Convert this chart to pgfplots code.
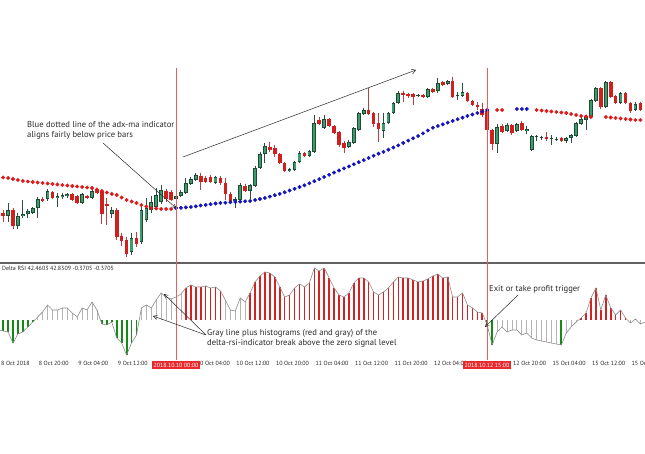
\documentclass[border=0pt]{standalone}
\usepackage{pgfplots}
\pgfplotsset{compat=1.18}
\usepackage{pgfplotstable}
\usepackage{fontspec}
\setmainfont{PT Sans}
\usetikzlibrary{arrows.meta}
\definecolor{candleRed}{HTML}{CF1F1F}
\definecolor{candleGreen}{HTML}{3D9C6C}
\definecolor{candleEdge}{HTML}{1E4A35}
\definecolor{wickRed}{HTML}{B84040}
\definecolor{wickGreen}{HTML}{2D4F40}
\definecolor{dotRed}{HTML}{E01818}
\definecolor{dotBlue}{HTML}{1414BE}
\definecolor{histRed}{HTML}{D42222}
\definecolor{histGreen}{HTML}{138A13}
\definecolor{histGray}{HTML}{B4B4B4}
\definecolor{lineGray}{HTML}{8C8C8C}
\definecolor{vline}{HTML}{E46060}
\definecolor{boxRed}{HTML}{E8282C}
\definecolor{annot}{HTML}{2A2A2A}

\pgfplotsset{candle/.style={only marks, mark=*, mark size=0pt, mark options={draw=none, fill=none},
  error bars/.cd, y dir=plus, y explicit, error mark=none}}

% candles: k = hours from 2018.10.10 00:00; values are chart heights (screen units, downward)
\pgfplotstableread{
k wt wb bt bb
-34 203 222 210 216
-32 213 229 216 226
-31 200 218 214 216
-30 209 218 211 214
-29 207 214 208 213
-28 197 218 199 208
-26 189 201 191 199
-24 193 207 196 198
-23 193 199 195 197
-22 193 198 194 196
-19 193 204 194 203
-17 187 199 191 198
-13 207 218 210 214
-9 233 255 238 252
-7 205 244 210 242
-6 198 222 208 220
-5 196 213 202 210
-4 188 210 195 207
-3 185 204 190 202
0 194 202 196 199
1 190 197 192 196
2 178 194 183 193
3 177 185 179 184
4 173 181 175 180
8 176 184 177 183
12 197 208 199 201
13 183 202 185 200
15 184 199 185 191
16 166 187 168 186
17 152 169 154 168
18 143 163 146 154
23 168 172 169 171
24 161 171 162 170
25 151 163 153 162
27 150 157 151 156
28 115 153 123 152
30 115 129 119 128
35 140 148 142 147
36 127 144 128 143
37 112 131 113 130
38 108 115 110 114
42 113 138 123 131
43 112 124 113 123
44 102 114 103 113
45 91 104 93 103
49 94 97 95 96
51 88 98 89 97
53 78 93 83 91
55 80 85 81 84
57 92 100 95 96
58 83 97 92 96
65 124 153 127 144
67 123 132 125 131
69 123 132 124 131
71 126 134 129 131
72 135 151 136 150
73 135 141 136 137
74 136 140 137 138
76 135 145 138 139
77 137 141 139 140
79 137 143 138 141
80 134 143 135 138
81 122 137 123 136
82 117 125 119 124
83 115 130 117 120
84 99 118 100 117
85 87 102 88 101
87 81 108 82 107
90 92 104 93 103
93 102 111 104 110
}\greencandles

\pgfplotstableread{
k wt wb bt bb
-35 210 222 213 216
-33 208 229 210 226
-27 197 202 199 201
-25 191 199 192 198
-21 193 201 194 200
-20 195 204 196 203
-18 195 199 196 198
-16 189 194 190 193
-15 190 224 191 214
-14 198 225 204 206
-12 208 240 210 237
-11 233 246 236 241
-10 237 257 240 254
-8 232 247 238 244
-2 189 202 191 199
-1 190 201 192 200
5 173 190 176 182
6 176 183 178 182
7 175 183 177 182
9 176 185 178 183
10 178 200 183 194
11 192 203 194 202
14 184 192 186 191
19 142 152 147 150
20 145 157 148 154
21 153 164 154 163
22 162 172 163 171
26 152 157 153 156
29 117 125 120 124
31 118 127 119 126
32 125 134 126 133
33 131 147 132 145
34 141 153 143 148
39 88 115 110 114
40 112 127 113 124
41 113 142 123 129
46 91 102 93 95
47 93 98 94 96
48 93 105 94 97
50 94 98 95 97
52 88 93 89 92
54 81 86 82 85
56 77 98 81 97
59 92 102 93 101
60 100 106 101 105
61 102 110 105 107
62 103 117 109 115
63 110 131 111 130
64 129 150 130 144
66 124 133 126 132
68 124 135 125 133
70 121 131 123 130
75 132 141 137 139
78 137 142 138 141
86 87 109 88 107
88 81 98 82 97
89 95 104 96 103
91 92 104 93 103
92 102 113 103 111
94 102 111 103 110
}\redcandles

\pgfplotstableread{
k y
-36 177
-35 177.5
-34 178
-33 179
-32 180
-31 181
-30 181.5
-29 182
-28 182.5
-27 183
-26 183.5
-25 184
-24 184.5
-23 185
-22 185.5
-21 186
-20 186.5
-19 187
-18 187.5
-17 188
-16 189.5
-15 191
-14 192.5
-13 194
-12 195
-11 197.5
-10 200
-9 201.5
-8 203
-7 205
-6 206.5
-5 208
-4 208.5
-3 209
-2 209
-1 209
65 110
66 110
73 110
74 110.5
75 111
76 111.5
77 112
78 112.5
79 113
80 114
81 115
82 116
83 116.5
84 117
87 117
88 117.5
89 118
90 118.5
91 119
92 119.5
93 120
94 120
95 120
}\reddots

\pgfplotstableread{
k y
0 208
1 207.8
2 207.4
3 207
4 206.3
5 205.5
6 204.9
7 204.2
8 203.5
9 203
10 202.7
11 202.3
12 202
13 201.7
14 201.3
15 201
16 200
17 199
18 198
19 196.6
20 195.2
21 193.8
22 192.3
23 190.5
24 188.8
25 187
26 185.3
27 183.3
28 181.2
29 179.2
30 177
31 174.8
32 172.6
33 170.5
34 168.4
35 166.4
36 164.3
37 162.2
38 160.1
39 158
40 155.8
41 153.7
42 151.9
43 149.7
44 147.5
45 145.4
46 143
47 140.6
48 138.3
49 136
50 133.3
51 130.5
52 127.8
53 126
54 124.3
55 122.6
56 120.9
57 119.2
58 117.7
59 116
60 114.5
61 113
62 111.5
63 110
69 109
70 109
71 109
}\bluedots

\pgfplotstableread{
k h
-36 -10
-35 -11
-34 -12
-33 -23
-32 -14
-31 -12
-30 -7
-29 -2
-28 3
-27 8
-26 15
-25 10
-24 10
-23 12
-22 12
-21 7
-20 3
-19 12
-18 10
-17 18
-16 10
-15 -4
-14 -5
-13 -2
-12 -18
-11 -23
-10 -35
-9 -23
-8 -15
-7 12
-6 15
-5 12
-4 20
-3 27
-2 23
-1 21
0 23
1 26
2 32
3 35
4 33
5 33
6 34
7 32
8 33
9 29
10 20
11 10
12 9
13 22
14 18
15 27
16 38
17 44
18 48
19 47
20 43
21 33
22 23
23 25
24 32
25 36
26 33
27 37
28 52
29 49
30 52
31 42
32 32
33 25
34 23
35 27
36 37
37 42
38 42
39 38
40 28
41 25
42 28
43 32
44 38
45 43
46 42
47 42
48 40
49 38
50 39
51 41
52 44
53 46
54 42
55 43
56 23
57 23
58 27
59 15
60 12
61 8
62 7
63 -5
64 -25
65 -12
66 -7
67 -12
68 -10
69 -10
70 -15
71 -13
72 -18
73 -20
74 -21
75 -22
76 -23
77 -24
78 -25
79 -13
80 -7
81 -2
82 2
83 7
84 22
85 32
86 10
87 25
88 12
89 5
90 10
91 2
92 -3
93 1
94 -4
95 -2
}\rsiline

\pgfplotstableread{
k h
-35 -11
-34 -12
-33 -23
-32 -14
-31 -12
-30 -7
-29 -2
-15 -4
-14 -5
-13 -2
-12 -18
-11 -23
-10 -35
-9 -23
-8 -15
63 -5
64 -25
78 -25
}\histgreen

\pgfplotstableread{
k h
-28 3
-27 8
-26 15
-25 10
-24 10
-23 12
-22 12
-21 7
-20 3
-19 12
-18 10
-17 18
-16 10
-7 12
-6 15
-5 12
-4 20
-3 27
-2 23
-1 21
0 23
1 26
10 20
11 10
12 9
13 22
14 18
65 -12
66 -7
67 -12
68 -10
69 -10
70 -15
71 -13
72 -18
73 -20
74 -21
75 -22
76 -23
77 -24
79 -13
80 -7
81 -2
92 -3
94 -4
}\histgray

\pgfplotstableread{
k h
2 32
3 35
4 33
5 33
6 34
7 32
8 33
9 29
15 27
16 38
17 44
18 48
19 47
20 43
21 33
22 23
23 25
24 32
25 36
26 33
27 37
28 52
29 49
30 52
31 42
32 32
33 25
34 23
35 27
36 37
37 42
38 42
39 38
40 28
41 25
42 28
43 32
44 38
45 43
46 42
47 42
48 40
49 38
50 39
51 41
52 44
53 46
54 42
55 43
56 23
57 23
58 27
59 15
60 12
61 8
62 7
82 2
83 7
84 22
85 32
86 10
87 25
88 12
89 5
90 10
91 2
93 1
}\histred

\begin{document}
\begin{tikzpicture}[x=1pt,y=1pt]
\useasboundingbox (0,0) rectangle (645,454);
\fill[white] (0,0) rectangle (645,454);

% ---------- price panel ----------
\begin{axis}[
  at={(0pt,192pt)}, anchor=south west,
  width=645pt, height=194pt, scale only axis,
  xmin=-35.6275, xmax=94.939,
  ymin=68, ymax=262, y dir=reverse,
  axis line style={draw=none}, xtick=\empty, ytick=\empty,
]
% wicks
\addplot[candle, error bar style={line width=0.9pt, draw=wickGreen}]
  table[x=k, y=wt, y error expr=\thisrow{wb}-\thisrow{wt}] {\greencandles};
\addplot[candle, error bar style={line width=0.9pt, draw=wickRed}]
  table[x=k, y=wt, y error expr=\thisrow{wb}-\thisrow{wt}] {\redcandles};
% bodies
\addplot[candle, error bar style={line width=3.7pt, draw=candleEdge}]
  table[x=k, y=bt, y error expr=\thisrow{bb}-\thisrow{bt}] {\greencandles};
\addplot[candle, error bar style={line width=2.1pt, draw=candleGreen}]
  table[x=k, y expr=\thisrow{bt}+0.8, y error expr={max(\thisrow{bb}-\thisrow{bt}-1.6,0)}] {\greencandles};
\addplot[candle, error bar style={line width=3.6pt, draw=candleRed}]
  table[x=k, y=bt, y error expr=\thisrow{bb}-\thisrow{bt}] {\redcandles};
% adx-ma dots
\addplot[only marks, mark=*, mark size=1.75pt, color=dotRed] table[x=k, y=y] {\reddots};
\addplot[only marks, mark=*, mark size=1.75pt, color=dotBlue] table[x=k, y=y] {\bluedots};
\end{axis}

% ---------- delta rsi panel ----------
\begin{axis}[
  at={(0pt,96pt)}, anchor=south west,
  width=645pt, height=95pt, scale only axis,
  xmin=-35.6275, xmax=94.939,
  ymin=-38, ymax=57,
  axis line style={draw=none}, ytick=\empty,
  xtick={-28,-20,-12,4,12,20,28,36,44,52,68,76,84,92},
  xticklabels={8 Oct 20:00, 9 Oct 04:00, 9 Oct 12:00, 10 Oct 04:00, 10 Oct 12:00, 10 Oct 20:00, 11 Oct 04:00, 11 Oct 12:00, 11 Oct 20:00, 12 Oct 04:00, 12 Oct 20:00, 15 Oct 04:00, 15 Oct 12:00, 15 Oct 20:00},
  major tick length=0pt,
  xticklabel style={anchor=north west, inner sep=0pt, xshift=1pt, yshift=-3pt,
    font=\fontsize{6}{7}\selectfont, text=black!85},
]
\addplot[ycomb, color=histGray, line width=0.8pt] table[x=k, y=h] {\histgray};
\addplot[ycomb, color=histRed, line width=1.6pt] table[x=k, y=h] {\histred};
\addplot[ycomb, color=histGreen, line width=1.9pt] table[x=k, y=h] {\histgreen};
\addplot[sharp plot, color=lineGray, line width=0.6pt, mark=none] table[x=k, y=h] {\rsiline};
\end{axis}

% separator and event lines
\draw[line width=2.2pt, color=black!62] (0,191.3) -- (645,191.3);
\draw[line width=0.8pt, color=vline] (176,386) -- (176,94);
\draw[line width=0.8pt, color=vline] (487,386) -- (487,94);

% labels
\node[anchor=west, inner sep=0pt, font=\fontsize{6}{7}\selectfont, text=black!85] at (2,186) {Delta RSI 42.4603 42.8309 -0.3705 -0.3705};
\node[anchor=north west, inner sep=0pt, font=\fontsize{6}{7}\selectfont, text=black!85] at (1,93) {8 Oct 2018};
\node[fill=boxRed, text=white, inner xsep=1.6pt, inner ysep=1.4pt, font=\fontsize{6}{7}\selectfont] at (176,89) {2018.10.10 00:00};
\node[fill=boxRed, text=white, inner xsep=1.6pt, inner ysep=1.4pt, font=\fontsize{6}{7}\selectfont] at (487,89) {2018.10.12 15:00};

% annotations
\node[anchor=north west, inner sep=0pt, align=left, text=annot, font=\fontsize{8.6}{10.5}\selectfont] at (27,333) {Blue dotted line of the adx-ma indicator\\aligns fairly below price bars};
\node[anchor=north west, inner sep=0pt, align=left, text=annot, font=\fontsize{8.6}{10}\selectfont] at (207,125) {Gray line plus histograms (red and gray) of the\\delta-rsi-indicator break above the zero signal level};
\node[anchor=west, inner sep=0pt, text=annot, font=\fontsize{8.6}{10}\selectfont] at (489,165) {Exit or take profit trigger};

\draw[annot, line width=0.5pt, -{Straight Barb[length=3.5pt,width=4pt]}] (103,311) -- (176,246);
\draw[annot, line width=0.5pt, -{Straight Barb[length=4pt,width=5pt]}] (183,297) -- (416,384);
\draw[annot, line width=0.5pt, -{Straight Barb[length=3.5pt,width=4pt]}] (206,119) -- (164,160);
\draw[annot, line width=0.5pt, -{Straight Barb[length=3.5pt,width=4pt]}] (206,119) -- (153,138);
\draw[annot, line width=0.5pt, -{Straight Barb[length=3.5pt,width=4pt]}] (518,159) -- (485,127);
\end{tikzpicture}
\end{document}
